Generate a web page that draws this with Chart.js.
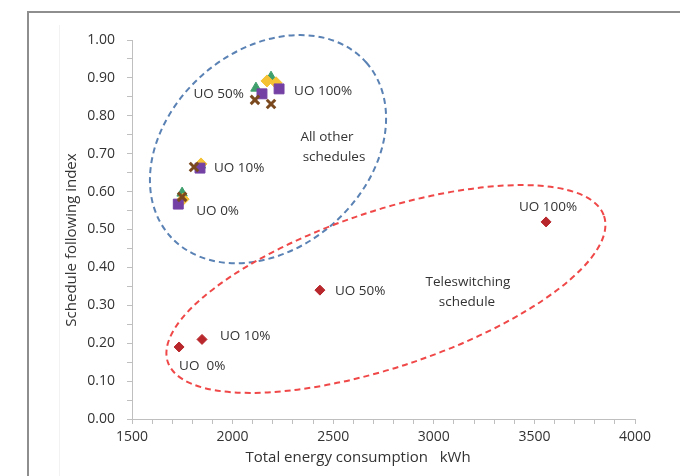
<!DOCTYPE html>
<html>
<head>
<meta charset="utf-8">
<script src="https://cdn.jsdelivr.net/npm/chart.js@4/dist/chart.umd.min.js"></script>
<style>
  html, body { margin: 0; padding: 0; background: #ffffff; }
  #wrap { width: 680px; height: 476px; }
</style>
</head>
<body>
<div id="wrap"><canvas id="chart" width="680" height="476"></canvas></div>
<script>
// Unoccupied-household share for each run
const uoLevels = ['UO 0%', 'UO 10%', 'UO 50%', 'UO 100%'];

// Teleswitching schedule: energy (kWh) and schedule following index
const teleEnergy = [1734, 1848, 2434, 3558];
const teleIndex  = [0.19, 0.21, 0.34, 0.52];

// All other schedules (four schedule variants)
const greenEnergy  = [1749, 1840, 2116, 2191];
const greenIndex   = [0.596, 0.670, 0.873, 0.902];
const yellowEnergy = [1754, 1843, 2171, 2216];
const yellowIndex  = [0.580, 0.673, 0.892, 0.887];
const purpleEnergy = [1730, 1838, 2146, 2231];
const purpleIndex  = [0.567, 0.662, 0.858, 0.871];
const brownEnergy  = [1749, 1808, 2111, 2191];
const brownIndex   = [0.586, 0.665, 0.842, 0.831];

// Axis ticks
const xTicksMajor = [1500, 2000, 2500, 3000, 3500, 4000];
const yTicksMajor = [0.0, 0.1, 0.2, 0.3, 0.4, 0.5, 0.6, 0.7, 0.8, 0.9, 1.0];

const toPoints = (xs, ys) => xs.map((x, i) => ({ x: x, y: ys[i] }));

const FONT = '"Open Sans", "DejaVu Sans", sans-serif';
const TEXT = '#333333';
const AXIS = '#BFBFBF';

// Dashed outlines around each group (centre in data units, radii in px)
const groupOutlines = [
  { cx: 2176, cy: 0.712, rx: 131, ry: 99, angle: -41.4, color: '#5A82B4' },
  { cx: 2762, cy: 0.343, rx: 230, ry: 78, angle: -18.5, color: '#F04848' }
];

// Point labels: attached to a dataset point with a pixel offset
const pointLabels = [
  { set: 'purple', i: 3, text: uoLevels[3], dx: 15, dy: 2, align: 'left' },
  { set: 'brown',  i: 2, text: uoLevels[2], dx: -11, dy: -6, align: 'right' },
  { set: 'purple', i: 1, text: uoLevels[1], dx: 14, dy: 0, align: 'left' },
  { set: 'purple', i: 0, text: uoLevels[0], dx: 18, dy: 7, align: 'left' },
  { set: 'tele',   i: 3, text: uoLevels[3], dx: 2, dy: -15, align: 'center' },
  { set: 'tele',   i: 2, text: uoLevels[2], dx: 15, dy: 1, align: 'left' },
  { set: 'tele',   i: 1, text: uoLevels[1], dx: 18, dy: -3, align: 'left' },
  { set: 'tele',   i: 0, text: 'UO  0%', dx: 0, dy: 19, align: 'left' }
];

// Group captions, placed in data units
const groupCaptions = [
  { text: 'All other', x: 2469, y: 0.744 },
  { text: 'schedules', x: 2504, y: 0.691 },
  { text: 'Teleswitching', x: 3170, y: 0.361 },
  { text: 'schedule', x: 3165, y: 0.309 }
];

const seriesPoints = {
  tele:   { xs: teleEnergy,   ys: teleIndex },
  green:  { xs: greenEnergy,  ys: greenIndex },
  yellow: { xs: yellowEnergy, ys: yellowIndex },
  purple: { xs: purpleEnergy, ys: purpleIndex },
  brown:  { xs: brownEnergy,  ys: brownIndex }
};

const framePlugin = {
  id: 'frame',
  beforeDraw(chart) {
    const ctx = chart.ctx;
    ctx.save();
    ctx.fillStyle = '#ffffff';
    ctx.fillRect(0, 0, chart.width, chart.height);
    ctx.strokeStyle = '#F2F2F2';
    ctx.lineWidth = 1;
    ctx.beginPath();
    ctx.moveTo(59.5, 25);
    ctx.lineTo(59.5, chart.height);
    ctx.stroke();
    ctx.strokeStyle = '#8E8E8E';
    ctx.lineWidth = 2;
    ctx.beginPath();
    ctx.moveTo(28, chart.height);
    ctx.lineTo(28, 12);
    ctx.lineTo(chart.width, 12);
    ctx.stroke();
    ctx.restore();
  }
};

const outlinePlugin = {
  id: 'outlines',
  beforeDatasetsDraw(chart) {
    const ctx = chart.ctx, xs = chart.scales.x, ys = chart.scales.y;
    ctx.save();
    groupOutlines.forEach(o => {
      ctx.beginPath();
      ctx.ellipse(xs.getPixelForValue(o.cx), ys.getPixelForValue(o.cy), o.rx, o.ry,
                  o.angle * Math.PI / 180, 0, Math.PI * 2);
      ctx.setLineDash([6, 4]);
      ctx.lineWidth = 2;
      ctx.strokeStyle = o.color;
      ctx.stroke();
    });
    ctx.restore();
  }
};

const textPlugin = {
  id: 'texts',
  afterDatasetsDraw(chart) {
    const ctx = chart.ctx, xs = chart.scales.x, ys = chart.scales.y;
    ctx.save();
    ctx.fillStyle = TEXT;
    ctx.textBaseline = 'middle';
    ctx.font = '13.5px ' + FONT;
    pointLabels.forEach(l => {
      const s = seriesPoints[l.set];
      const px = xs.getPixelForValue(s.xs[l.i]);
      const py = ys.getPixelForValue(s.ys[l.i]);
      ctx.textAlign = l.align;
      ctx.fillText(l.text, px + l.dx, py + l.dy);
    });
    ctx.textAlign = 'center';
    groupCaptions.forEach(c => {
      ctx.fillText(c.text, xs.getPixelForValue(c.x), ys.getPixelForValue(c.y));
    });
    // axis titles
    ctx.font = '15px ' + FONT;
    ctx.fillText('Total energy consumption   kWh', xs.left + 226, 458);
    ctx.translate(72, 240);
    ctx.rotate(-Math.PI / 2);
    ctx.fillText('Schedule following index', 0, 0);
    ctx.restore();
  }
};

new Chart(document.getElementById('chart'), {
  type: 'scatter',
  data: {
    datasets: [
      { label: 'brown', data: toPoints(brownEnergy, brownIndex), order: 0,
        pointStyle: 'crossRot', pointRadius: 6, borderWidth: 3,
        borderColor: '#7A4A1E', backgroundColor: '#7A4A1E' },
      { label: 'purple', data: toPoints(purpleEnergy, purpleIndex), order: 1,
        pointStyle: 'rect', pointRadius: 7, borderWidth: 1,
        borderColor: '#7440A4', backgroundColor: '#7440A4' },
      { label: 'yellow', data: toPoints(yellowEnergy, yellowIndex), order: 2,
        pointStyle: 'rectRot', pointRadius: 6, borderWidth: 1,
        borderColor: '#F4C234', backgroundColor: '#F4C234' },
      { label: 'green', data: toPoints(greenEnergy, greenIndex), order: 3,
        pointStyle: 'triangle', pointRadius: 6, borderWidth: 1,
        borderColor: '#3E9E6C', backgroundColor: '#3E9E6C' },
      { label: 'Teleswitching', data: toPoints(teleEnergy, teleIndex), order: 4,
        pointStyle: 'rectRot', pointRadius: 5, borderWidth: 1,
        borderColor: '#B8272B', backgroundColor: '#B8272B' }
    ]
  },
  options: {
    responsive: false,
    animation: false,
    events: [],
    layout: { padding: { left: 0, top: 40, right: 45, bottom: 0 } },
    plugins: { legend: { display: false }, tooltip: { enabled: false } },
    scales: {
      x: {
        type: 'linear', min: 1500, max: 4000,
        afterFit(scale) { scale.height = 57; },
        ticks: {
          stepSize: 100, autoSkip: false, maxRotation: 0, padding: 5,
          color: TEXT, font: { family: FONT, size: 14 },
          callback: v => xTicksMajor.includes(v) ? String(v) : ''
        },
        grid: { drawOnChartArea: false, drawTicks: true, tickLength: 5, color: AXIS },
        border: { color: AXIS, width: 1 }
      },
      y: {
        type: 'linear', min: 0, max: 1,
        afterFit(scale) { scale.width = 132; },
        ticks: {
          stepSize: 0.05, autoSkip: false, padding: 12,
          color: TEXT, font: { family: FONT, size: 14 },
          callback: v => {
            const r = Math.round(v * 100) / 100;
            return yTicksMajor.some(t => Math.abs(t - r) < 1e-6) ? r.toFixed(2) : '';
          }
        },
        grid: { drawOnChartArea: false, drawTicks: true, tickLength: 5, color: AXIS },
        border: { color: AXIS, width: 1 }
      }
    }
  },
  plugins: [framePlugin, outlinePlugin, textPlugin]
});
</script>
</body>
</html>
